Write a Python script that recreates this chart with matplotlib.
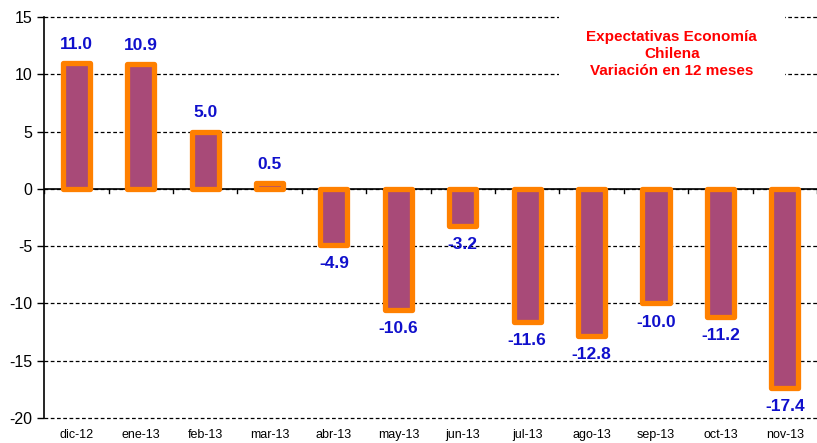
import numpy as np
import matplotlib.pyplot as plt

plt.rcParams['font.family'] = ['Liberation Sans', 'DejaVu Sans']

# datos
meses = ["dic-12", "ene-13", "feb-13", "mar-13", "abr-13", "may-13",
         "jun-13", "jul-13", "ago-13", "sep-13", "oct-13", "nov-13"]
variacion = [11.0, 10.9, 5.0, 0.5, -4.9, -10.6, -3.2, -11.6, -12.8, -10.0, -11.2, -17.4]
yticks = [-20, -15, -10, -5, 0, 5, 10, 15]

fig = plt.figure(figsize=(8.17, 4.43), dpi=100)
ax = fig.add_axes([0.054, 0.0564, 0.946, 0.9052])

x = np.arange(len(meses))
bars = ax.bar(x, variacion, width=0.42, color="#A84A78", edgecolor="#FF8000",
              linewidth=3.8, zorder=3)
for b in bars:
    b.set_joinstyle("round")

# etiquetas de valor
for xi, v in zip(x, variacion):
    off = 8 if v >= 0 else -8
    va = "bottom" if v >= 0 else "top"
    ax.annotate(f"{v:.1f}", (xi, v), xytext=(0, off), textcoords="offset points",
                ha="center", va=va, color="#1010CC", fontsize=12.5, fontweight="bold",
                zorder=4)

ax.set_xlim(-0.5, len(meses) - 0.5)
ax.set_ylim(-20, 15)
ax.set_yticks(yticks)
ax.set_yticklabels([str(t) for t in yticks], fontsize=11.5)
ax.yaxis.grid(True, linestyle=(0, (3, 2)), color="black", linewidth=0.9)
for gl in ax.get_ygridlines():
    gl.set_clip_on(False)
ax.set_axisbelow(True)

ax.set_xticks(x)
ax.set_xticklabels(meses, fontsize=9)
ax.tick_params(axis="x", length=0, pad=8)
ax.tick_params(axis="y", length=5, width=1)

for s in ["top", "right", "bottom"]:
    ax.spines[s].set_visible(False)
ax.spines["left"].set_linewidth(1.2)

# eje en cero con marcas
ax.axhline(0, color="black", linewidth=1.2, zorder=2)
for b in np.arange(-0.5, len(meses), 1.0):
    ax.plot([b, b], [0, -0.4], color="black", linewidth=1, zorder=2)

ax.text(0.812, 0.908, "Expectativas Economía\nChilena\nVariación en 12 meses",
        transform=ax.transAxes, ha="center", va="center", color="#FF0000",
        fontsize=11, fontweight="bold", linespacing=1.3, zorder=5,
        bbox=dict(facecolor="white", edgecolor="none", pad=20))

fig.savefig("out.png", dpi=100)
